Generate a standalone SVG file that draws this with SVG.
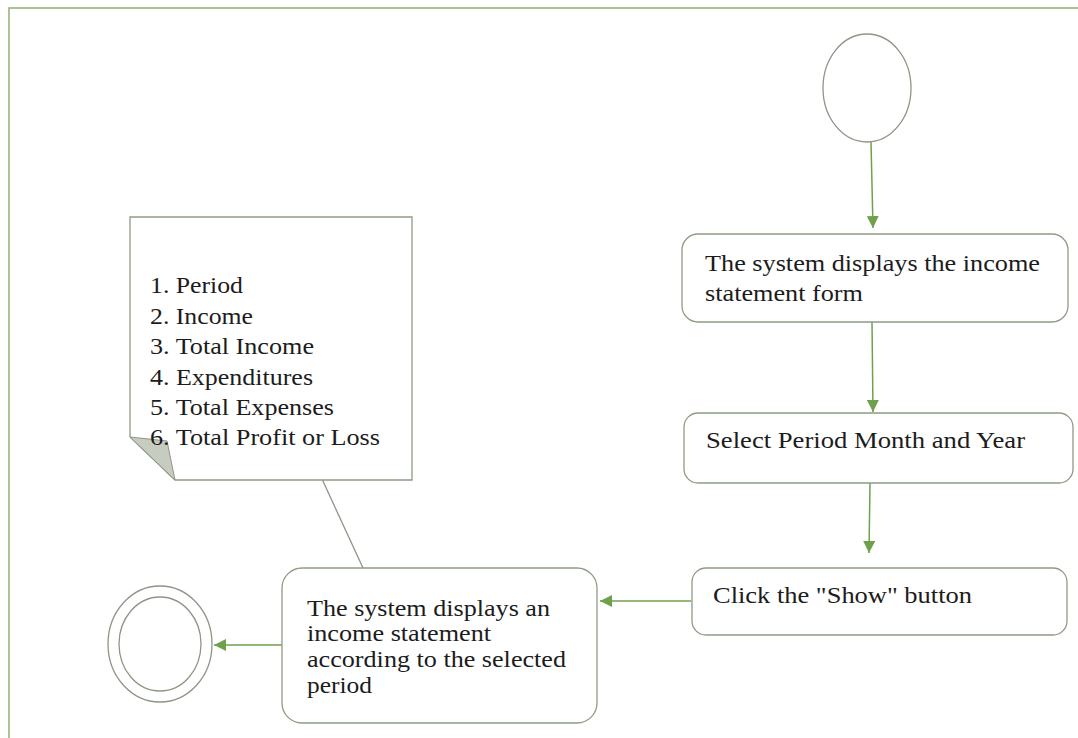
<svg xmlns="http://www.w3.org/2000/svg" width="1078" height="738" viewBox="0 0 1078 738">
  <style>
    .frame { fill: #ffffff; stroke: #8fb070; stroke-width: 1.5; }
    .box { fill: #ffffff; stroke: #8e9c84; stroke-width: 1.3; }
    .state { fill: #ffffff; stroke: #8e9686; stroke-width: 1.3; }
    .flow { fill: none; stroke: #70a04c; stroke-width: 1.5; }
    .anchor { fill: none; stroke: #8e9686; stroke-width: 1.3; }
    .label { font-family: "Liberation Serif", "Times New Roman", serif; font-size: 24px; fill: #1c1c1c; }
    .fold { fill: #c6cdc0; stroke: #8e9686; stroke-width: 1; }
  </style>
  <defs>
    <marker id="arrow" viewBox="0 0 12 12" refX="12" refY="6" markerWidth="12" markerHeight="12" markerUnits="userSpaceOnUse" orient="auto">
      <path d="M0,0 L12,6 L0,12 Z" fill="#70a04c"/>
    </marker>
  </defs>

  <rect width="1078" height="738" fill="#ffffff"/>
  <!-- activity frame -->
  <rect class="frame" x="9" y="8" width="1100" height="760"/>

  <!-- connectors -->
  <g id="connectors">
    <line class="flow" x1="871" y1="142" x2="873" y2="228" marker-end="url(#arrow)"/>
    <line class="flow" x1="872" y1="322" x2="873" y2="412" marker-end="url(#arrow)"/>
    <line class="flow" x1="870" y1="483" x2="869" y2="553" marker-end="url(#arrow)"/>
    <line class="flow" x1="691" y1="601" x2="600" y2="601" marker-end="url(#arrow)"/>
    <line class="flow" x1="282" y1="645" x2="214" y2="645" marker-end="url(#arrow)"/>
    <line class="anchor" x1="322" y1="479" x2="363" y2="568"/>
  </g>

  <!-- initial node -->
  <g id="start">
    <ellipse class="state" cx="867" cy="88" rx="44" ry="54"/>
  </g>

  <!-- final node -->
  <g id="end">
    <ellipse class="state" cx="160" cy="644" rx="52" ry="58"/>
    <ellipse class="state" cx="160" cy="644" rx="41" ry="47"/>
  </g>

  <g id="show-form">
    <rect class="box" x="682" y="234" width="386" height="88" rx="16" ry="16"/>
    <text class="label" x="705" y="271" textLength="335" lengthAdjust="spacingAndGlyphs">The system displays the income</text>
    <text class="label" x="705" y="301" textLength="158" lengthAdjust="spacingAndGlyphs">statement form</text>
  </g>

  <g id="select-period">
    <rect class="box" x="684" y="413" width="389" height="70" rx="14" ry="14"/>
    <text class="label" x="706" y="448" textLength="319" lengthAdjust="spacingAndGlyphs">Select Period Month and Year</text>
  </g>

  <g id="click-show">
    <rect class="box" x="692" y="568" width="375" height="67" rx="14" ry="14"/>
    <text class="label" x="713" y="603" textLength="259" lengthAdjust="spacingAndGlyphs">Click the "Show" button</text>
  </g>

  <g id="show-statement">
    <rect class="box" x="282" y="568" width="315" height="155" rx="20" ry="20"/>
    <text class="label" x="307" y="616" textLength="243" lengthAdjust="spacingAndGlyphs">The system displays an</text>
    <text class="label" x="307" y="641" textLength="184" lengthAdjust="spacingAndGlyphs">income statement</text>
    <text class="label" x="307" y="667" textLength="259" lengthAdjust="spacingAndGlyphs">according to the selected</text>
    <text class="label" x="307" y="693" textLength="65" lengthAdjust="spacingAndGlyphs">period</text>
  </g>

  <!-- comment note attached to the result -->
  <g id="note">
    <path class="box" d="M130,217 H412 V480 H175 L130,437 Z"/>
    <path class="fold" d="M130,437 L167,441 L175,480 Z"/>
    <text class="label" x="150" y="293" textLength="93" lengthAdjust="spacingAndGlyphs">1. Period</text>
    <text class="label" x="150" y="324" textLength="103" lengthAdjust="spacingAndGlyphs">2. Income</text>
    <text class="label" x="150" y="354" textLength="164" lengthAdjust="spacingAndGlyphs">3. Total Income</text>
    <text class="label" x="150" y="385" textLength="163" lengthAdjust="spacingAndGlyphs">4. Expenditures</text>
    <text class="label" x="150" y="415" textLength="184" lengthAdjust="spacingAndGlyphs">5. Total Expenses</text>
    <text class="label" x="150" y="445" textLength="230" lengthAdjust="spacingAndGlyphs">6. Total Profit or Loss</text>
  </g>
</svg>
